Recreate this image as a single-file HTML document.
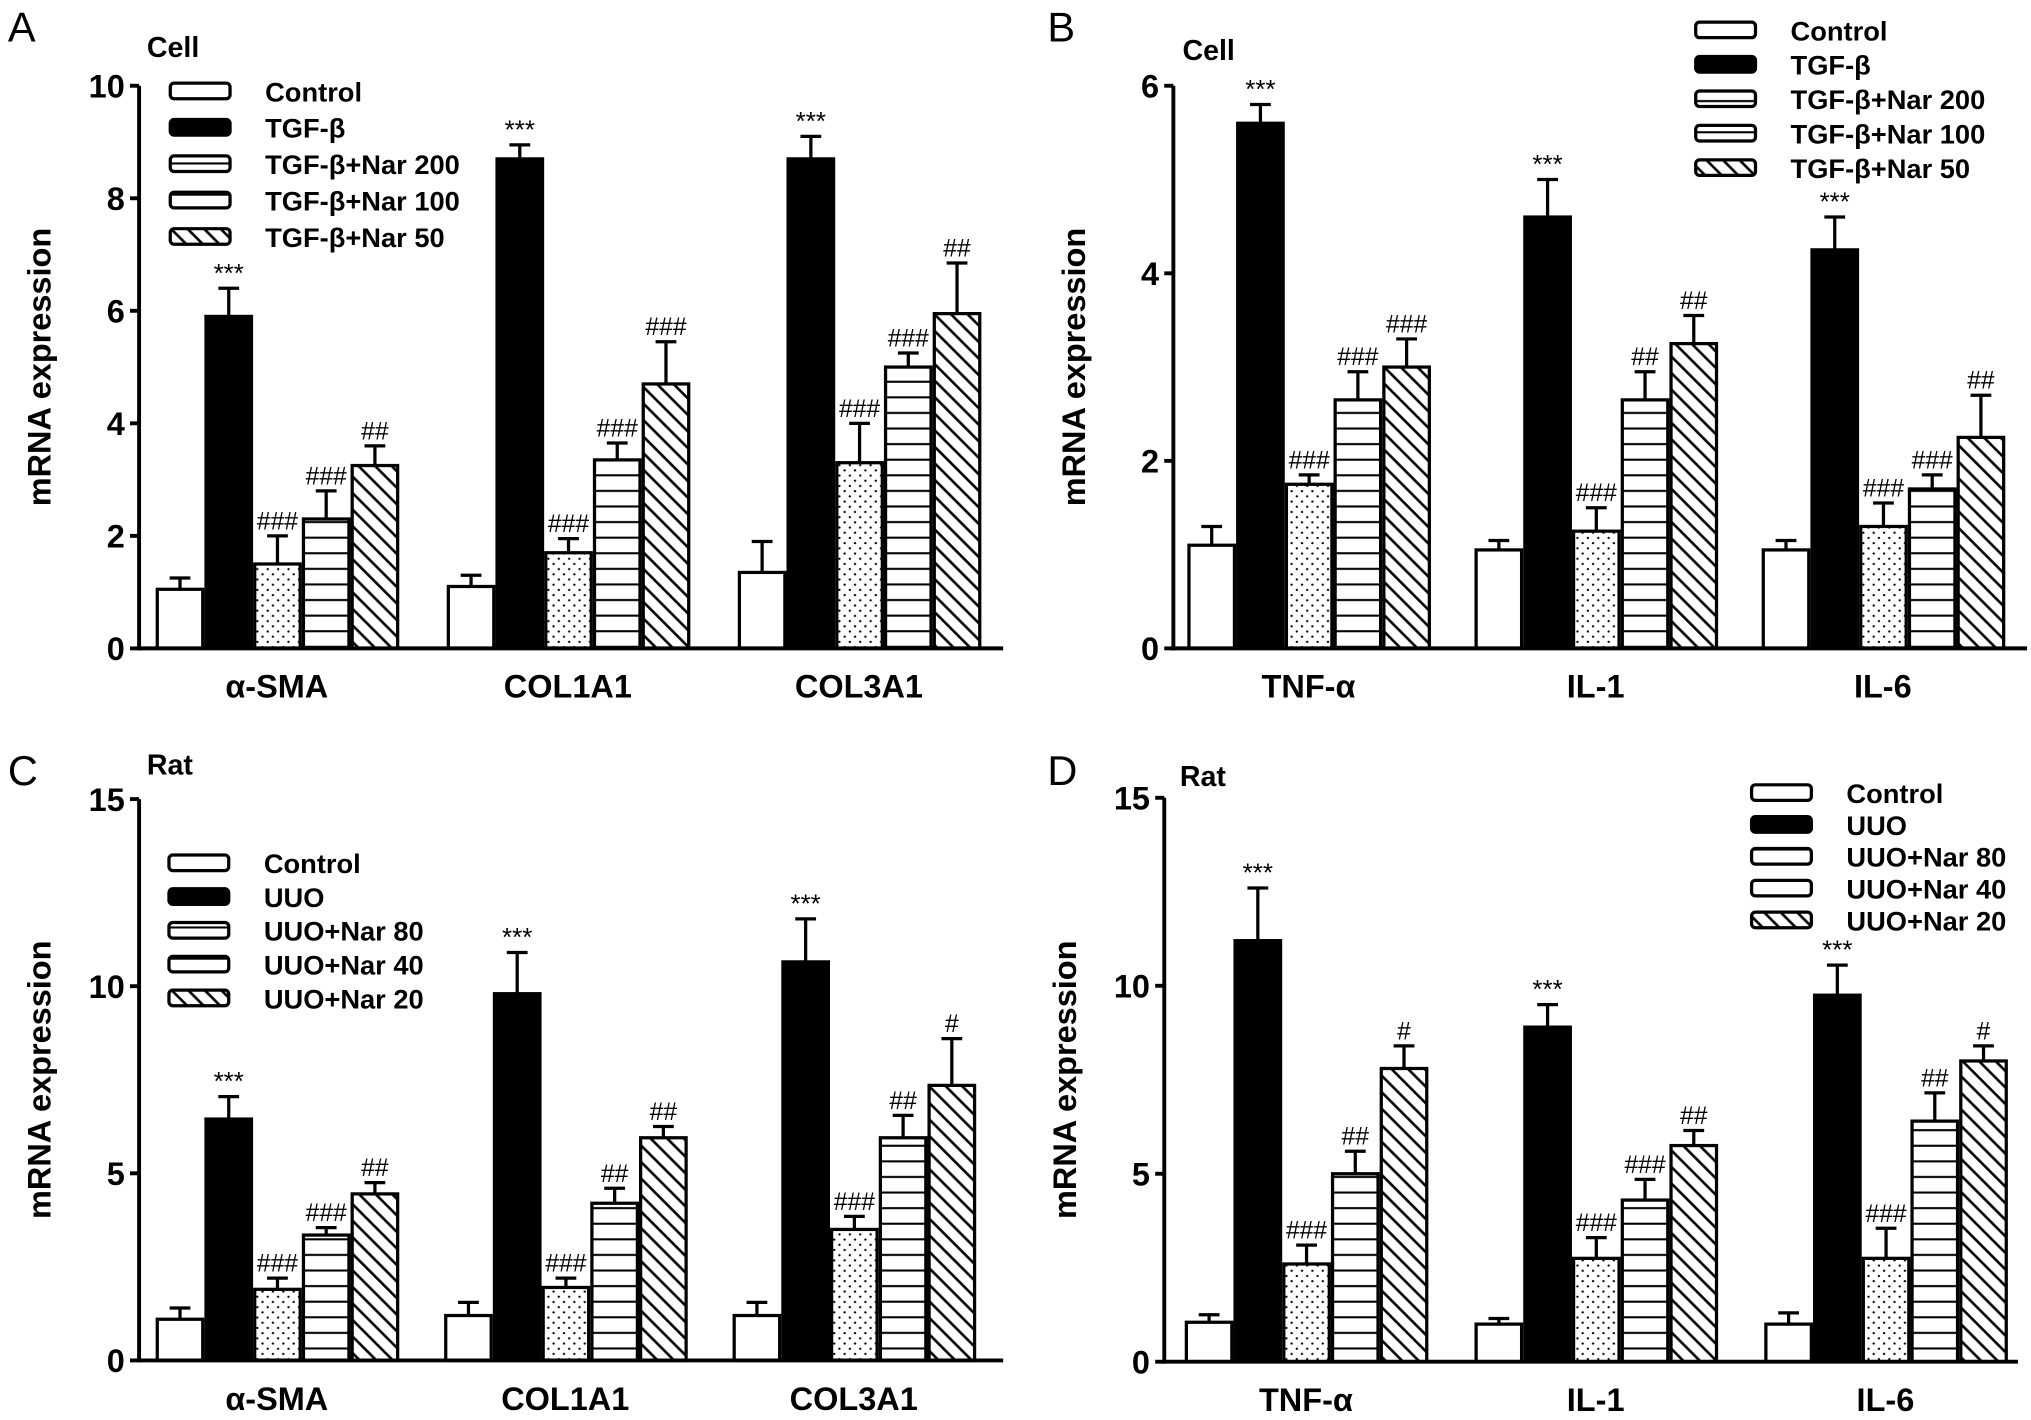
<!DOCTYPE html>
<html><head><meta charset="utf-8"><style>
html,body{margin:0;padding:0;background:#fff;}
svg text{font-family:"Liberation Sans",sans-serif;}
</style></head><body>
<svg id="fig" width="2031" height="1415" viewBox="0 0 1563 1089" xmlns="http://www.w3.org/2000/svg">
<defs>
<pattern id="dots" width="8" height="8" patternUnits="userSpaceOnUse"><rect width="8" height="8" fill="#fff"/><circle cx="2" cy="2" r="0.9" fill="#000"/><circle cx="6" cy="6" r="0.9" fill="#000"/></pattern>
<pattern id="hlines" width="8" height="12" patternUnits="userSpaceOnUse"><rect width="8" height="12" fill="#fff"/><rect y="5" width="8" height="1.6" fill="#000"/></pattern>
<pattern id="diag" width="9" height="9" patternUnits="userSpaceOnUse" patternTransform="rotate(-45)"><rect width="9" height="9" fill="#fff"/><rect x="3.5" width="2" height="9" fill="#000"/></pattern>
</defs>
</svg>
<script>
const catsA=["α-SMA","COL1A1","COL3A1"];
const catsB=["TNF-α","IL-1","IL-6"];
const legendA=["Control","TGF-β","TGF-β+Nar 200","TGF-β+Nar 100","TGF-β+Nar 50"];
const legendC=["Control","UUO","UUO+Nar 80","UUO+Nar 40","UUO+Nar 20"];
const valsA=[[1.05,5.9,1.5,2.3,3.25],[1.1,8.7,1.7,3.35,4.7],[1.35,8.7,3.3,5.0,5.95]];
const errA=[[0.2,0.5,0.5,0.5,0.35],[0.2,0.25,0.25,0.3,0.75],[0.55,0.4,0.7,0.25,0.9]];
const sigA=[["","***","###","###","##"],["","***","###","###","###"],["","***","###","###","##"]];
const valsB=[[1.1,5.6,1.75,2.65,3.0],[1.05,4.6,1.25,2.65,3.25],[1.05,4.25,1.3,1.7,2.25]];
const errB=[[0.2,0.2,0.1,0.3,0.3],[0.1,0.4,0.25,0.3,0.3],[0.1,0.35,0.25,0.15,0.45]];
const sigB=[["","***","###","###","###"],["","***","###","##","##"],["","***","###","###","##"]];
const valsC=[[1.1,6.45,1.9,3.35,4.45],[1.2,9.8,1.95,4.2,5.95],[1.2,10.65,3.5,5.95,7.35]];
const errC=[[0.3,0.6,0.3,0.2,0.3],[0.35,1.1,0.25,0.4,0.3],[0.35,1.15,0.35,0.6,1.25]];
const sigC=[["","***","###","###","##"],["","***","###","##","##"],["","***","###","##","#"]];
const valsD=[[1.05,11.2,2.6,5.0,7.8],[1.0,8.9,2.75,4.3,5.75],[1.0,9.75,2.75,6.4,8.0]];
const errD=[[0.2,1.4,0.5,0.6,0.6],[0.15,0.6,0.55,0.55,0.4],[0.3,0.8,0.8,0.75,0.4]];
const sigD=[["","***","###","##","#"],["","***","###","###","##"],["","***","###","##","#"]];
const ticksA=[0,2,4,6,8,10], ticksB=[0,2,4,6], ticksC=[0,5,10,15];

const NS="http://www.w3.org/2000/svg";
const svg=document.getElementById('fig');
const fills=["#fff","#000","url(#dots)","url(#hlines)","url(#diag)"];
const lfills=["#fff","#000","url(#hlines)","url(#hlines)","url(#diag)"];
function mk(tag,attrs,parent){const e=document.createElementNS(NS,tag);for(const k in attrs)e.setAttribute(k,attrs[k]);(parent||svg).appendChild(e);return e;}
function txt(s,attrs,parent){const e=mk('text',attrs,parent);e.textContent=s;return e;}

function panel(p){
  const g=mk('g',{});
  
  
  const y=v=>p.y0-(v/p.ymax)*(p.y0-p.ytop);
  const l=txt(p.letter,{x:p.lx,y:p.ly,'font-size':32},g);
  
  const t=txt(p.title,{x:p.tx,y:p.ty,'font-size':22,'font-weight':'bold'},g);
  
  const yt=txt("mRNA expression",{x:0,y:0,'font-size':25,'font-weight':'bold','text-anchor':'middle',transform:`translate(${p.x0-68},${(p.y0+p.ytop)/2}) rotate(-90)`},g);
  
  p.vals.forEach((grp,ci)=>{
    const gx=p.g0+ci*p.gp;
    grp.forEach((v,si)=>{
      const bx=gx+si*37.5, w=35;
      const top=y(v+p.err[ci][si]);
      const el=mk('line',{x1:bx+w/2,x2:bx+w/2,y1:y(v),y2:top,stroke:'#000','stroke-width':2.5},g);
      
      const cap=mk('line',{x1:bx+w/2-8,x2:bx+w/2+8,y1:top,y2:top,stroke:'#000','stroke-width':2.5},g);
      
      const r=mk('rect',{x:bx,y:y(v),width:w,height:p.y0-y(v),fill:fills[si],stroke:'#000','stroke-width':2.5},g);
      
      
      const s=p.sig[ci][si];
      if(s){const st=txt(s,{x:bx+w/2,y:top-5,'font-size':s.startsWith('*')?20:19,'text-anchor':'middle','font-family':'Liberation Serif'},g);
        }
    });
    const cl=txt(p.cats[ci],{x:gx+92,y:p.y0+38,'font-size':25,'font-weight':'bold','text-anchor':'middle'},g);
    
  });
  const ya=mk('line',{x1:p.x0,x2:p.x0,y1:p.ytop,y2:p.y0+1.5,stroke:'#000','stroke-width':3},g);
  
  const xa=mk('line',{x1:p.x0-1.5,x2:p.xend,y1:p.y0,y2:p.y0,stroke:'#000','stroke-width':3},g);
  
  p.ticks.forEach(tv=>{
    const tk=mk('line',{x1:p.x0-7,x2:p.x0,y1:y(tv),y2:y(tv),stroke:'#000','stroke-width':3},g);
    
    const tl=txt(String(tv),{x:p.x0-11,y:y(tv)+9,'font-size':25,'font-weight':'bold','text-anchor':'end'},g);
    
  });
  p.legend.forEach((name,i)=>{
    const ly=p.legY+i*p.legDy;
    const b=mk('rect',{x:p.legX,y:ly-6,width:46,height:12,rx:3,fill:lfills[i],stroke:'#000','stroke-width':2.5},g);
    
    const lt=txt(name,{x:p.legX+73,y:ly+8,'font-size':21,'font-weight':'bold'},g);
    
  });
}
panel({id:'a',letter:'A',lx:6,ly:32,title:'Cell',tx:113,ty:44,x0:107,ytop:66,y0:499,ymax:10,xend:772,g0:121,gp:224,
  vals:valsA,err:errA,sig:sigA,cats:catsA,ticks:ticksA,legend:legendA,legX:131,legY:70,legDy:28});
panel({id:'b',letter:'B',lx:806,ly:32,title:'Cell',tx:910,ty:46,x0:903,ytop:66,y0:499,ymax:6,xend:1560,g0:915,gp:221,
  vals:valsB,err:errB,sig:sigB,cats:catsB,ticks:ticksB,legend:legendA,legX:1305,legY:23,legDy:26.5});
panel({id:'c',letter:'C',lx:6,ly:604,title:'Rat',tx:113,ty:596,x0:107,ytop:615,y0:1047,ymax:15,xend:772,g0:121,gp:222,
  vals:valsC,err:errC,sig:sigC,cats:catsA,ticks:ticksC,legend:legendC,legX:130,legY:664,legDy:26});
panel({id:'d',letter:'D',lx:806,ly:604,title:'Rat',tx:908,ty:605,x0:896,ytop:614,y0:1048,ymax:15,xend:1553,g0:913,gp:223,
  vals:valsD,err:errD,sig:sigD,cats:catsB,ticks:ticksC,legend:legendC,legX:1348,legY:610,legDy:24.5});
</script>
</body></html>
